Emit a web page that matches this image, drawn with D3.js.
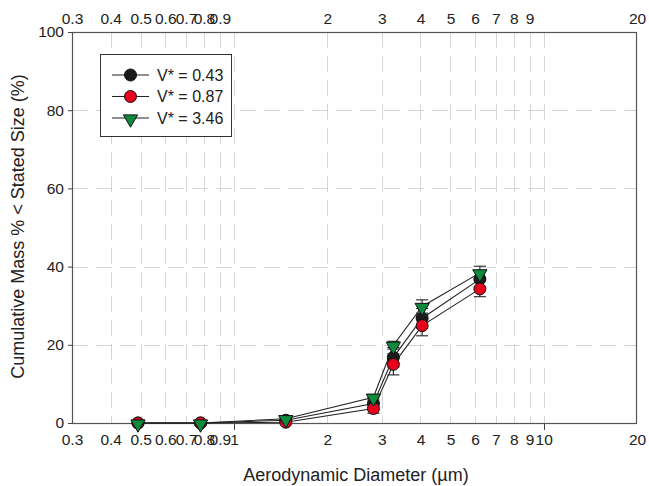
<!DOCTYPE html>
<html>
<head>
<meta charset="utf-8">
<script src="https://cdn.jsdelivr.net/npm/d3@7"></script>
<style>
  html, body { margin: 0; padding: 0; background: #fff; }
  svg { display: block; font-family: "Liberation Sans", Arial, sans-serif; }
</style>
</head>
<body>
<svg id="chart" width="649" height="486"></svg>
<script>
// Aerodynamic diameter of each impactor stage (µm)
const diameters = [0.49, 0.78, 1.47, 2.82, 3.27, 4.05, 6.22];

// Cumulative mass % below stated size, per flow condition
const seriesNames = ["V* = 0.43", "V* = 0.87", "V* = 3.46"];
const massV043 = [0, 0, 0.7, 5.0, 16.8, 26.8, 36.8];
const massV087 = [0, 0, 0.2, 3.7, 15.0, 24.9, 34.3];
const massV346 = [0, 0, 1.1, 6.6, 19.9, 29.8, 38.4];

// Standard deviations
const errV043 = [0, 0, 0.3, 1.5, 2.5, 2.5, 2.0];
const errV087 = [0, 0, 0.3, 1.2, 2.7, 2.6, 2.0];
const errV346 = [0, 0, 0.3, 0.7, 1.0, 1.7, 1.7];

// Axis ticks
const xTickValues = [0.3, 0.4, 0.5, 0.6, 0.7, 0.8, 0.9, 1, 2, 3, 4, 5, 6, 7, 8, 9, 10, 20];
const xTopLabels = [0.3, 0.4, 0.5, 0.6, 0.7, 0.8, 0.9, 2, 3, 4, 5, 6, 7, 8, 9, 20];
const xGridValues = [0.4, 0.5, 0.6, 0.7, 0.8, 0.9, 1, 2, 3, 4, 5, 6, 7, 8, 9, 10];
const xMajor = [1, 10];
const yTickValues = [0, 20, 40, 60, 80, 100];
const yGridValues = [20, 40, 60, 80];

const series = [
  { name: seriesNames[0], values: massV043, err: errV043, shape: "circle", fill: "#1a1a1a" },
  { name: seriesNames[1], values: massV087, err: errV087, shape: "circle", fill: "#e8001c" },
  { name: seriesNames[2], values: massV346, err: errV346, shape: "triangle", fill: "#0e8a3c" }
];

const svg = d3.select("#chart");
const margin = { left: 72, right: 12, top: 32, bottom: 63 };
const W = 649, H = 486;
const x = d3.scaleLog().domain([0.3, 20]).range([margin.left, W - margin.right]);
const y = d3.scaleLinear().domain([0, 100]).range([H - margin.bottom, margin.top]);
const x0 = x.range()[0], x1 = x.range()[1], y0 = y.range()[0], y1 = y.range()[1];

const fmt = d => String(d);
const FONT = "Liberation Sans, Arial, sans-serif";
const TICK_FS = 15.5;

// Grid
const grid = svg.append("g").attr("stroke", "#d4d4d4").attr("stroke-width", 1)
  .attr("stroke-dasharray", "16,8");
grid.selectAll("line.v").data(xGridValues).join("line").attr("class", "v")
  .attr("x1", d => Math.round(x(d)) + 0.5).attr("x2", d => Math.round(x(d)) + 0.5)
  .attr("y1", y1).attr("y2", y0);
grid.selectAll("line.h").data(yGridValues).join("line").attr("class", "h")
  .attr("y1", d => Math.round(y(d)) + 0.5).attr("y2", d => Math.round(y(d)) + 0.5)
  .attr("x1", x0).attr("x2", x1);

// Bottom axis
const axisB = svg.append("g").attr("transform", `translate(0,${y0})`)
  .call(d3.axisBottom(x).tickValues(xTickValues).tickFormat(fmt).tickSize(0).tickPadding(11));
axisB.select(".domain").remove();
axisB.selectAll("text").attr("font-size", TICK_FS).attr("fill", "#222").attr("font-family", FONT);
svg.append("g").selectAll("line").data(xMajor).join("line")
  .attr("x1", d => Math.round(x(d)) + 0.5).attr("x2", d => Math.round(x(d)) + 0.5)
  .attr("y1", y0).attr("y2", y0 + 7).attr("stroke", "#444");

// Top axis
const axisT = svg.append("g").attr("transform", `translate(0,${y1})`)
  .call(d3.axisTop(x).tickValues(xTopLabels).tickFormat(fmt).tickSize(0).tickPadding(8));
axisT.select(".domain").remove();
axisT.selectAll("text").attr("font-size", TICK_FS).attr("fill", "#222").attr("font-family", FONT);

// Left axis
const axisL = svg.append("g").attr("transform", `translate(${x0},0)`)
  .call(d3.axisLeft(y).tickValues(yTickValues).tickSize(4).tickPadding(4));
axisL.select(".domain").remove();
axisL.selectAll("line").attr("stroke", "#444");
axisL.selectAll("text").attr("font-size", TICK_FS).attr("fill", "#222").attr("font-family", FONT);

// Frame
svg.append("rect").attr("x", x0 + 0.5).attr("y", y1 + 0.5)
  .attr("width", x1 - x0 - 1).attr("height", y0 - y1)
  .attr("fill", "none").attr("stroke", "#555").attr("stroke-width", 1.2);

// Axis titles
svg.append("text").attr("x", 356).attr("y", 481).attr("text-anchor", "middle")
  .attr("font-size", 18).attr("fill", "#222").text("Aerodynamic Diameter (µm)");
svg.append("text").attr("transform", `translate(24,${(y0 + y1) / 2 - 1}) rotate(-90)`)
  .attr("text-anchor", "middle").attr("font-size", 18).attr("fill", "#222")
  .text("Cumulative Mass % < Stated Size (%)");

// Data
const line = d3.line().x((d, i) => x(diameters[i])).y(d => y(d));
const plot = svg.append("g");
series.forEach(s => {
  plot.append("path").attr("d", line(s.values)).attr("fill", "none")
    .attr("stroke", "#222").attr("stroke-width", 1.1);
});

const triangle = d3.symbol().type(d3.symbolTriangle).size(88)();
function drawMarker(g, s, cx, cy) {
  if (s.shape === "circle") {
    g.append("circle").attr("cx", cx).attr("cy", cy).attr("r", 6)
      .attr("fill", s.fill).attr("stroke", "#111").attr("stroke-width", 1);
  } else {
    g.append("path").attr("d", triangle)
      .attr("transform", `translate(${cx},${cy + 1}) rotate(180)`)
      .attr("fill", s.fill).attr("stroke", "#111").attr("stroke-width", 1);
  }
}

series.forEach(s => {
  const g = plot.append("g");
  s.values.forEach((v, i) => {
    const e = s.err[i];
    if (e > 0) {
      const cx = x(diameters[i]);
      const eb = g.append("g").attr("stroke", "#222").attr("stroke-width", 1.1);
      eb.append("line").attr("x1", cx).attr("x2", cx).attr("y1", y(v - e)).attr("y2", y(v + e));
      [v - e, v + e].forEach(t => eb.append("line").attr("x1", cx - 6).attr("x2", cx + 6)
        .attr("y1", y(t)).attr("y2", y(t)));
    }
  });
  s.values.forEach((v, i) => drawMarker(g, s, x(diameters[i]), y(v)));
});

// Legend
const lg = svg.append("g");
lg.append("rect").attr("x", 100.5).attr("y", 54.5).attr("width", 131).attr("height", 82)
  .attr("fill", "#fff").attr("stroke", "#333").attr("stroke-width", 1);
series.forEach((s, i) => {
  const ly = 75 + i * 21.5;
  lg.append("line").attr("x1", 112).attr("x2", 149).attr("y1", ly).attr("y2", ly)
    .attr("stroke", "#222").attr("stroke-width", 1.1);
  drawMarker(lg, s, 130.5, ly);
  lg.append("text").attr("x", 157).attr("y", ly + 5.5).attr("font-size", 16)
    .attr("fill", "#222").text(s.name);
});
</script>
</body>
</html>
